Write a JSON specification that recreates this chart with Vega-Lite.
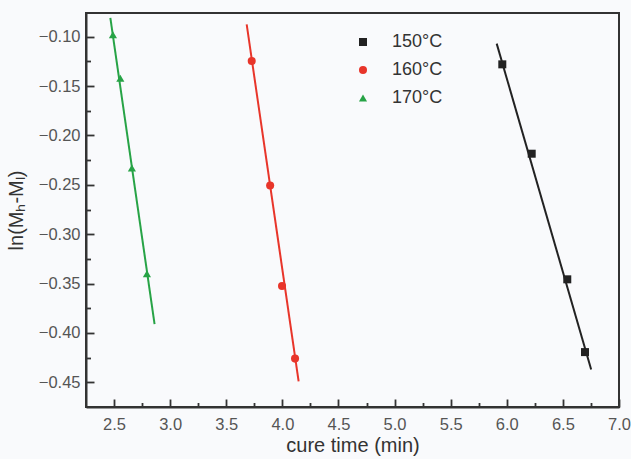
{
  "$schema": "https://vega.github.io/schema/vega-lite/v6.json",
  "width": 533,
  "height": 394,
  "autosize": {"type": "none"},
  "padding": {"left": 86, "top": 13, "right": 12, "bottom": 52},
  "background": "#f9fafc",
  "config": {
    "view": {"stroke": "#333333", "strokeWidth": 2},
    "font": "Liberation Sans"
  },
  "datasets": {
    "points": [
      {"t": 5.960, "v": -0.128, "series": "150°C"},
      {"t": 6.222, "v": -0.2185, "series": "150°C"},
      {"t": 6.539, "v": -0.3457, "series": "150°C"},
      {"t": 6.697, "v": -0.4194, "series": "150°C"},
      {"t": 3.727, "v": -0.1247, "series": "160°C"},
      {"t": 3.891, "v": -0.2506, "series": "160°C"},
      {"t": 3.997, "v": -0.3525, "series": "160°C"},
      {"t": 4.113, "v": -0.426, "series": "160°C"},
      {"t": 2.490, "v": -0.098, "series": "170°C"},
      {"t": 2.556, "v": -0.142, "series": "170°C"},
      {"t": 2.659, "v": -0.233, "series": "170°C"},
      {"t": 2.793, "v": -0.340, "series": "170°C"}
    ],
    "fits": [
      {"t": 5.910, "v": -0.107, "series": "150°C"},
      {"t": 6.752, "v": -0.437, "series": "150°C"},
      {"t": 3.682, "v": -0.0875, "series": "160°C"},
      {"t": 4.145, "v": -0.449, "series": "160°C"},
      {"t": 2.467, "v": -0.081, "series": "170°C"},
      {"t": 2.861, "v": -0.391, "series": "170°C"}
    ]
  },
  "encoding": {
    "x": {
      "field": "t",
      "type": "quantitative",
      "scale": {"domain": [2.25, 7.0], "nice": false, "zero": false},
      "axis": {
        "values": [2.5, 2.75, 3.0, 3.25, 3.5, 3.75, 4.0, 4.25, 4.5, 4.75, 5.0, 5.25, 5.5, 5.75, 6.0, 6.25, 6.5, 6.75, 7.0],
        "labelExpr": "abs(datum.value*2-round(datum.value*2))<0.01 ? format(datum.value,'.1f') : ''",
        "tickSize": {"condition": {"test": "abs(datum.value*2-round(datum.value*2))<0.01", "value": -8}, "value": -4.5},
        "grid": false,
        "domainColor": "#333333",
        "domainWidth": 2,
        "tickColor": "#333333",
        "tickWidth": 1.8,
        "labelFontSize": 16.5,
        "labelColor": "#555555",
        "labelPadding": 17,
        "labelFlush": false,
        "title": "cure time (min)",
        "titleFontSize": 20,
        "titleFontWeight": "normal",
        "titleColor": "#333333",
        "titlePadding": 3
      }
    },
    "y": {
      "field": "v",
      "type": "quantitative",
      "scale": {"domain": [-0.475, -0.076], "nice": false, "zero": false},
      "axis": {
        "values": [-0.45, -0.425, -0.4, -0.375, -0.35, -0.325, -0.3, -0.275, -0.25, -0.225, -0.2, -0.175, -0.15, -0.125, -0.1],
        "labelExpr": "abs(datum.value*20-round(datum.value*20))<0.01 ? format(datum.value,'.2f') : ''",
        "tickSize": {"condition": {"test": "abs(datum.value*20-round(datum.value*20))<0.01", "value": -8}, "value": -4.5},
        "grid": false,
        "domainColor": "#333333",
        "domainWidth": 2,
        "tickColor": "#333333",
        "tickWidth": 1.8,
        "labelFontSize": 16.5,
        "labelColor": "#555555",
        "labelPadding": 14,
        "labelFlush": false,
        "title": "ln(Mₕ-Mₗ)",
        "titleFontSize": 20,
        "titleFontWeight": "normal",
        "titleColor": "#333333",
        "titlePadding": 12
      }
    }
  },
  "layer": [
    {
      "data": {"name": "fits"},
      "mark": {"type": "line", "strokeWidth": 2},
      "encoding": {
        "color": {
          "field": "series",
          "type": "nominal",
          "scale": {"domain": ["150°C", "160°C", "170°C"], "range": ["#222222", "#e8352a", "#27a346"]},
          "legend": {
            "title": null,
            "orient": "none",
            "legendX": 268,
            "legendY": 20,
            "labelFontSize": 18,
            "labelColor": "#333333",
            "labelOffset": 20,
            "rowPadding": 10,
            "symbolStrokeWidth": 0,
            "padding": 0
          }
        },
        "detail": {"field": "series"}
      }
    },
    {
      "data": {"name": "points"},
      "mark": {"type": "point", "filled": true, "opacity": 1},
      "encoding": {
        "color": {
          "field": "series",
          "type": "nominal",
          "scale": {"domain": ["150°C", "160°C", "170°C"], "range": ["#222222", "#e8352a", "#27a346"]},
          "legend": {
            "title": null,
            "orient": "none",
            "legendX": 268,
            "legendY": 20,
            "labelFontSize": 18,
            "labelColor": "#333333",
            "labelOffset": 20,
            "rowPadding": 10,
            "symbolStrokeWidth": 0,
            "padding": 0
          }
        },
        "shape": {
          "field": "series",
          "type": "nominal",
          "scale": {"domain": ["150°C", "160°C", "170°C"], "range": ["square", "circle", "triangle-up"]},
          "legend": {
            "title": null,
            "orient": "none",
            "legendX": 268,
            "legendY": 20,
            "labelFontSize": 18,
            "labelColor": "#333333",
            "labelOffset": 20,
            "rowPadding": 10,
            "symbolStrokeWidth": 0,
            "padding": 0
          }
        },
        "size": {
          "field": "series",
          "type": "nominal",
          "scale": {"domain": ["150°C", "160°C", "170°C"], "range": [64, 66, 115]},
          "legend": {
            "title": null,
            "orient": "none",
            "legendX": 268,
            "legendY": 20,
            "labelFontSize": 18,
            "labelColor": "#333333",
            "labelOffset": 20,
            "rowPadding": 10,
            "symbolStrokeWidth": 0,
            "padding": 0
          }
        }
      }
    }
  ]
}
